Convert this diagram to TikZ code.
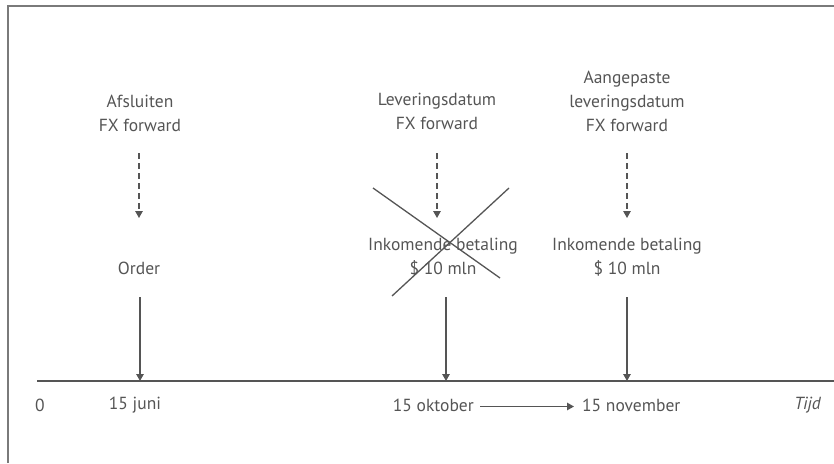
\documentclass[tikz,border=0pt]{standalone}
\usepackage{fontspec}
\setmainfont{PT Sans}
\usetikzlibrary{arrows.meta}
\definecolor{ink}{HTML}{555555}
\definecolor{rule}{HTML}{555555}
\definecolor{frame}{HTML}{7A7A7A}
\begin{document}
\begin{tikzpicture}[x=1pt,y=-1pt,
  lbl/.style={text=ink,font=\fontsize{17.5}{24}\selectfont,align=center,inner sep=0pt},
  tip/.style={-{Triangle[length=7pt,width=7.5pt]}},
  dasharrow/.style={tip,draw=rule,line width=1.3pt,dash pattern=on 6pt off 4pt},
  solidarrow/.style={tip,draw=rule,line width=1.3pt},
  strike/.style={draw=rule,line width=1.3pt}]
\useasboundingbox (0,0) rectangle (834,463);
% open frame: top and left edges only
\draw[frame,line width=1.3pt] (8,463) -- (8,6) -- (834,6);

% event descriptions
\node[lbl] (top1) at (140,113) {Afsluiten\\FX forward};
\node[lbl] (top2) at (437,111) {Leveringsdatum\\FX forward};
\node[lbl] (top3) at (627,101) {Aangepaste\\leveringsdatum\\FX forward};

\node[lbl] (mid1) at (139,268) {Order};
\node[lbl] (mid2) at (443,257) {Inkomende betaling\\\$ 10 mln};
\node[lbl] (mid3) at (627,257) {Inkomende betaling\\\$ 10 mln};

% arrow ends
\coordinate (d1a) at (139,153); \coordinate (d1b) at (139,218);
\coordinate (d2a) at (437,153); \coordinate (d2b) at (437,218);
\coordinate (d3a) at (627,153); \coordinate (d3b) at (627,218);
\coordinate (s1a) at (140,297); \coordinate (s1b) at (140,381);
\coordinate (s2a) at (446,297); \coordinate (s2b) at (446,381);
\coordinate (s3a) at (627,297); \coordinate (s3b) at (627,381);

\draw[dasharrow] (d1a) -- (d1b);
\draw[dasharrow] (d2a) -- (d2b);
\draw[dasharrow] (d3a) -- (d3b);

\draw[solidarrow] (s1a) -- (s1b);
\draw[solidarrow] (s2a) -- (s2b);
\draw[solidarrow] (s3a) -- (s3b);

% cancelled delivery date
\coordinate (xa) at (373,188); \coordinate (xb) at (500,278);
\coordinate (xc) at (509,188); \coordinate (xd) at (392,296);
\draw[strike] (xa) -- (xb);
\draw[strike] (xc) -- (xd);

% time axis
\coordinate (tl0) at (37,381);
\coordinate (tl1) at (834,381);
\draw[rule,line width=1.5pt] (tl0) -- (tl1);

\node[lbl] (date0) at (40,405) {0};
\node[lbl] (date1) at (135,405) {15 juni};
\node[lbl,anchor=east] (date2) at (474,405) {15 oktober};
\node[lbl,anchor=west] (date3) at (582,405) {15 november};
\node[lbl,anchor=east,font=\fontsize{17.5}{24}\selectfont\itshape] (tijd) at (821,405) {Tijd};

\draw[solidarrow,line width=1.3pt] ([xshift=6pt,yshift=-1.5pt]date2.east) -- ([xshift=-8pt,yshift=-1.5pt]date3.west);
\end{tikzpicture}
\end{document}
